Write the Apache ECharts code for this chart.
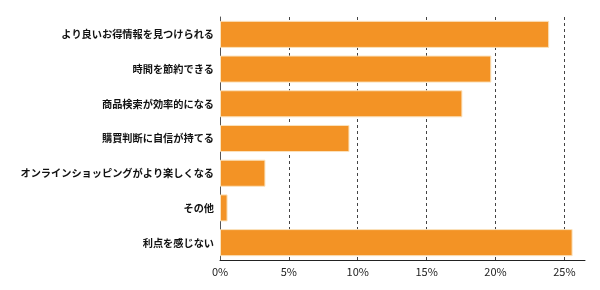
<!DOCTYPE html>
<html>
<head>
<meta charset="utf-8">
<script src="https://cdn.jsdelivr.net/npm/echarts@6/dist/echarts.min.js"></script>
<style>
  html, body { margin: 0; padding: 0; background: #fff; }
  #chart { width: 600px; height: 290px; }
</style>
</head>
<body>
<div id="chart"></div>
<script>
// 回答項目（上から順）
const categories = [
  'より良いお得情報を見つけられる',
  '時間を節約できる',
  '商品検索が効率的になる',
  '購買判断に自信が持てる',
  'オンラインショッピングがより楽しくなる',
  'その他',
  '利点を感じない'
]
// 割合 (%)
const values = [23.9, 19.7, 17.6, 9.4, 3.3, 0.55, 25.6]

var chart = echarts.init(document.getElementById('chart'))

var option = {
  animation: false,
  grid: { left: 220, right: 15, top: 17, bottom: 30 },
  xAxis: {
    type: 'value',
    min: 0,
    max: 26.5,
    interval: 5,
    axisLine: { show: true, lineStyle: { color: '#222', width: 1 } },
    axisTick: { show: false },
    axisLabel: {
      showMaxLabel: false,
      color: '#222',
      fontSize: 11,
      fontFamily: 'Noto Sans CJK JP',
      margin: 6,
      formatter: function (v) {
        return v % 5 === 0 ? v + '%' : ''
      }
    },
    splitLine: {
      show: true,
      showMinLine: false,
      showMaxLine: false,
      lineStyle: { color: '#444', type: [3, 3], width: 1 }
    }
  },
  yAxis: {
    type: 'category',
    inverse: true,
    data: categories,
    axisLine: { show: true, lineStyle: { color: '#555', width: 1 } },
    axisTick: { show: false },
    axisLabel: {
      color: '#111',
      fontSize: 10.2,
      fontWeight: 'bold',
      fontFamily: 'Noto Sans CJK JP',
      margin: 6
    }
  },
  series: [
    {
      type: 'bar',
      data: values,
      barCategoryGap: '22%',
      itemStyle: {
        color: '#F39325',
        borderColor: '#FBE3BE',
        borderWidth: 1
      }
    }
  ]
}

chart.setOption(option)
</script>
</body>
</html>
